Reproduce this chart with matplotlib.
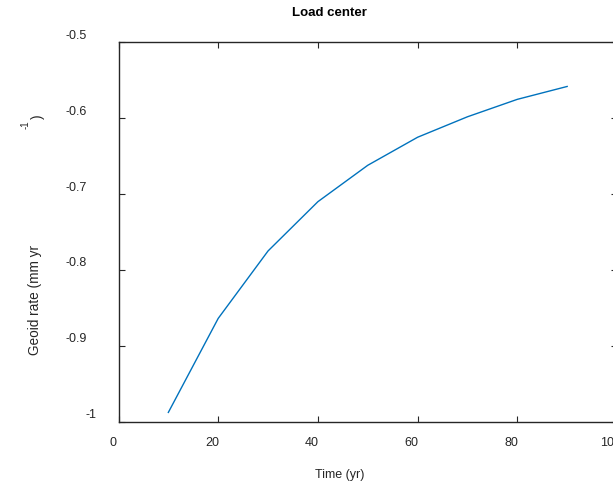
import matplotlib

matplotlib.use("Agg")
import matplotlib.pyplot as plt
from matplotlib.transforms import ScaledTranslation

# geoid rate at the load centre, sampled every 10 years
time_yr = [10, 20, 30, 40, 50, 60, 70, 80, 90]
geoid_rate = [-0.988, -0.864, -0.775, -0.710, -0.662, -0.625, -0.598, -0.575, -0.558]

x_ticks = [0, 20, 40, 60, 80, 100]
y_ticks = [-1.0, -0.9, -0.8, -0.7, -0.6, -0.5]
y_tick_labels = ["-1", "-0.9", "-0.8", "-0.7", "-0.6", "-0.5"]

W, H = 613, 487
plt.rcParams["font.family"] = ["Liberation Sans", "DejaVu Sans"]

fig = plt.figure(figsize=(W / 100, H / 100), dpi=100)
ax = fig.add_axes([118.5 / W, (H - 421.5) / H, (617 - 118.5) / W, (421.5 - 42.5) / H])

ax.plot(time_yr, geoid_rate, color="#0072BD", lw=1.0)

ax.set_xlim(0, 100)
ax.set_ylim(-1.0, -0.5)
ax.set_xticks(x_ticks)
ax.set_yticks(y_ticks)
ax.set_yticklabels(y_tick_labels)

axc = "#262626"
for s in ax.spines.values():
    s.set_color(axc)
    s.set_linewidth(1.0)
ax.tick_params(direction="in", length=4, width=0.8, colors=axc,
               top=True, right=True, labelsize=9, labelcolor="#262626")
ax.tick_params(axis="x", pad=11)
ax.tick_params(axis="y", pad=23)

# nudge the tick labels the way the exported figure placed them
for lab in ax.get_xticklabels():
    lab.set_transform(lab.get_transform() + ScaledTranslation(-0.06, 0, fig.dpi_scale_trans))
for lab in ax.get_yticklabels():
    dx = 0.10 if lab.get_text() == "-1" else 0.0
    lab.set_transform(lab.get_transform() + ScaledTranslation(dx, 0.08, fig.dpi_scale_trans))

fig.text(329 / W, 1 - 13 / H, "Load center", ha="center", va="center",
         fontsize=9.5, fontweight="bold", color="black")
fig.text(340 / W, 1 - 475 / H, "Time (yr)", ha="center", va="center",
         fontsize=9, color="#262626")
fig.text(35 / W, 1 - 300 / H, "Geoid rate (mm yr", ha="center", va="center",
         rotation=90, fontsize=9.8, color="#262626")
fig.text(26 / W, 1 - 125 / H, "-1", ha="center", va="center",
         rotation=90, fontsize=7, color="#262626")
fig.text(38 / W, 1 - 117 / H, ")", ha="center", va="center",
         rotation=90, fontsize=9.8, color="#262626")

fig.savefig("out.png", dpi=100)
